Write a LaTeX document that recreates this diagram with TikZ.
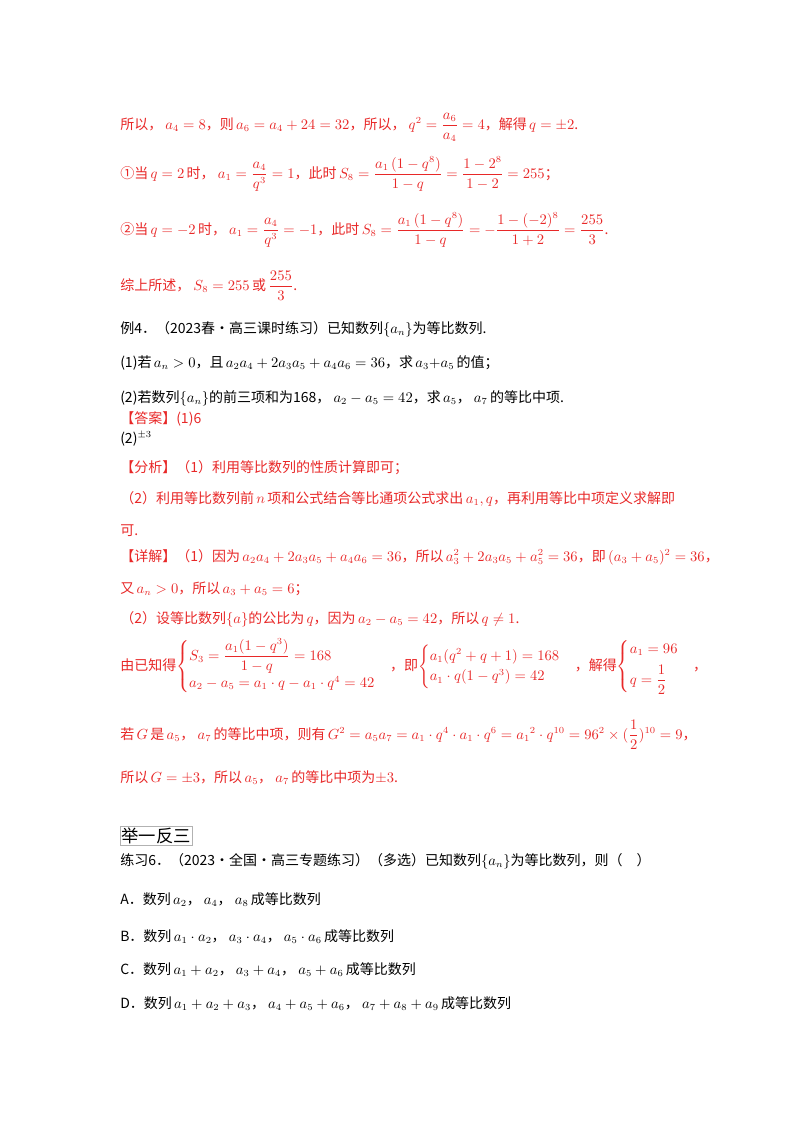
\documentclass[tikz,border=0pt]{standalone}
\usepackage{amsmath}
\usepackage{fontspec}
\newfontfamily\cjk{Noto Sans CJK SC}
\definecolor{rd}{RGB}{232,40,40}
\begin{document}
\begin{tikzpicture}[x=0.75pt,y=-0.75pt,
  t/.style={anchor=base west,inner sep=0pt,font=\cjk\fontsize{10.5}{13}\selectfont},
  r/.style={t,text=rd}]
\useasboundingbox (0,0) rectangle (800,1132);
\node[r] (l1) at (120,129) {所以，\ $a_4=8$，则\,$a_6=a_4+24=32$，所以，\ $q^2=\dfrac{a_6}{a_4}=4$，解得\,$q=\pm2$.};
\node[r] (l2) at (120,178) {①当\,$q=2$\,时，\ $a_1=\dfrac{a_4}{q^3}=1$，此时\,$S_8=\dfrac{a_1\left(1-q^8\right)}{1-q}=\dfrac{1-2^8}{1-2}=255$；};
\node[r] (l3) at (120,234) {②当\,$q=-2$\,时，\ $a_1=\dfrac{a_4}{q^3}=-1$，此时\,$S_8=\dfrac{a_1\left(1-q^8\right)}{1-q}=-\dfrac{1-(-2)^8}{1+2}=\dfrac{255}{3}$.};
\node[r] (l4) at (120,290) {综上所述，\ $S_8=255$\,或\,$\dfrac{255}{3}$.};
\node[t] (l5) at (120,333) {例4．（2023春·高三课时练习）已知数列$\{a_n\}$为等比数列.};
\node[t] (l6) at (120,367) {(1)若\,$a_n>0$，且\,$a_2a_4+2a_3a_5+a_4a_6=36$，求\,$a_3{+}a_5$\,的值；};
\node[t] (l7) at (120,402) {(2)若数列$\{a_n\}$的前三项和为168，\ $a_2-a_5=42$，求\,$a_5$，\ $a_7$\,的等比中项.};
\node[r] (l8) at (120,423) {【答案】(1)6};
\node[t] (l9) at (120,443) {(2)$^{\pm3}$};
\node[r] (l10) at (120,472) {【分析】（1）利用等比数列的性质计算即可；};
\node[r] (l11) at (120,503) {（2）利用等比数列前\,$n$\,项和公式结合等比通项公式求出\,$a_1,q$，再利用等比中项定义求解即};
\node[r] (l12) at (120,535) {可.};
\node[r] (l13) at (120,561) {【详解】（1）因为\,$a_2a_4+2a_3a_5+a_4a_6=36$，所以\,$a_3^2+2a_3a_5+a_5^2=36$，即\,$(a_3+a_5)^2=36$，};
\node[r] (l14) at (120,593) {又\,$a_n>0$，所以\,$a_3+a_5=6$；};
\node[r] (l15) at (120,623) {（2）设等比数列$\{a\}$的公比为\,$q$，因为\,$a_2-a_5=42$，所以\,$q\neq1$.};
\node[r] (l16) at (120,670) {由已知得$\begin{cases}S_3=\dfrac{a_1(1-q^3)}{1-q}=168\\[4pt] a_2-a_5=a_1\cdot q-a_1\cdot q^4=42\end{cases}$，即$\begin{cases}a_1(q^2+q+1)=168\\ a_1\cdot q(1-q^3)=42\end{cases}$，解得$\begin{cases}a_1=96\\[4pt] q=\dfrac12\end{cases}$，};
\node[r] (l17) at (120,739) {若\,$G$\,是\,$a_5$，\ $a_7$\,的等比中项，则有\,$G^2=a_5a_7=a_1\cdot q^4\cdot a_1\cdot q^6=a_1{}^2\cdot q^{10}=96^2\times(\dfrac12)^{10}=9$，};
\node[r] (l18) at (120,782) {所以\,$G=\pm3$，所以\,$a_5$，\ $a_7$\,的等比中项为$\pm3$.};
\node[draw=gray!60,line width=0.4pt,inner sep=1pt,anchor=west,font=\cjk\fontsize{13}{15}\selectfont] (hd) at (120,836) {举一反三};
\node[t] (l19) at (120,865) {练习6．（2023·全国·高三专题练习）（多选）已知数列$\{a_n\}$为等比数列，则（\quad ）};
\node[t] (la) at (120,904) {A．数列\,$a_2$，\ $a_4$，\ $a_8$\,成等比数列};
\node[t] (lb) at (120,941) {B．数列\,$a_1\cdot a_2$，\ $a_3\cdot a_4$，\ $a_5\cdot a_6$\,成等比数列};
\node[t] (lc) at (120,974) {C．数列\,$a_1+a_2$，\ $a_3+a_4$，\ $a_5+a_6$\,成等比数列};
\node[t] (ld) at (120,1008) {D．数列\,$a_1+a_2+a_3$，\ $a_4+a_5+a_6$，\ $a_7+a_8+a_9$\,成等比数列};
\end{tikzpicture}
\end{document}
